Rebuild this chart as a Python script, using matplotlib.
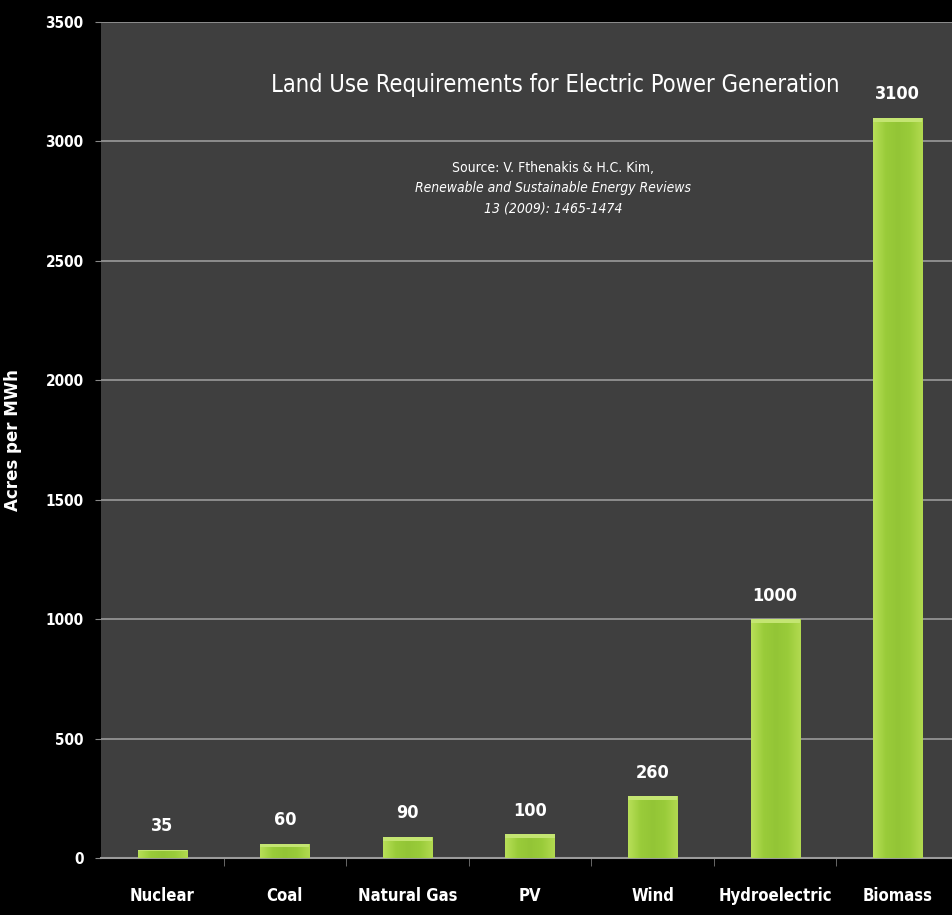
import matplotlib
matplotlib.use("Agg")
import matplotlib.pyplot as plt
from matplotlib.colors import LinearSegmentedColormap
import numpy as np

categories = ["Nuclear", "Coal", "Natural Gas", "PV", "Wind", "Hydroelectric", "Biomass"]
values = [35, 60, 90, 100, 260, 1000, 3100]
yticks = [0, 500, 1000, 1500, 2000, 2500, 3000, 3500]

plt.rcParams['font.family'] = ['DejaVu Sans']
plt.rcParams['font.stretch'] = 'condensed'

fig = plt.figure(figsize=(9.53, 9.15), dpi=100, facecolor='black')
ax = fig.add_axes([101/953, 1-858/915, 858/953, (858-22)/915])
ax.set_facecolor('#3f3f3f')

x = np.arange(len(categories))
bars = ax.bar(x, values, width=0.4, color='#98ca38', zorder=3)

# horizontal gradient: lighter edges, solid middle
cmap = LinearSegmentedColormap.from_list('g', ['#b8df58', '#9acc3a', '#93c536', '#9acc3a', '#b2da50'])
grad = np.linspace(0, 1, 64).reshape(1, -1)
for b in bars:
    h = b.get_height()
    im = ax.imshow(grad, extent=[b.get_x(), b.get_x() + b.get_width(), 0, h],
                   aspect='auto', cmap=cmap, zorder=3.5, origin='lower')
    im.set_clip_path(b)
    top = min(h * 0.2, 18)
    ax.bar(b.get_x() + b.get_width()/2, top, width=b.get_width(),
           bottom=h - top, color='#c4e572', zorder=4)

for xi, v in zip(x, values):
    ax.text(xi, v + 60, str(v), ha='center', va='bottom', color='white',
            fontsize=13, fontweight='bold', zorder=5)

ax.set_xlim(-0.5, 6.5)
ax.set_ylim(0, 3500)
ax.set_aspect('auto')
ax.set_yticks(yticks)
ax.set_yticklabels([str(t) for t in yticks], color='white', fontsize=11, fontweight='bold')
ax.set_xticks(x)
ax.set_xticklabels(categories, color='white', fontsize=12, fontweight='bold')
ax.tick_params(axis='x', length=0, pad=21)
ax.tick_params(axis='y', length=4.5, color='#888888', pad=8)
ax.set_xticks(np.arange(0.5, 6.5, 1), minor=True)
ax.tick_params(axis='x', which='minor', length=6, color='#777777', direction='out')

ax.grid(axis='y', color='#9a9a9a', linewidth=1.2, zorder=1)
for s in ['top', 'right', 'left']:
    ax.spines[s].set_visible(False)
ax.spines['bottom'].set_color('#9a9a9a')
ax.spines['bottom'].set_linewidth(1.5)

ax.set_ylabel("Acres per MWh", color='white', fontsize=12, fontweight='bold',
              fontstretch='normal')
ax.yaxis.set_label_coords((22 - 101) / 858, 1 - (440 - 22) / 836)

fig.text(555/953, 1-85/915, "Land Use Requirements for Electric Power Generation",
         color='white', fontsize=17, ha='center', va='center', fontweight='medium')
fig.text(553/953, 1-168/915, "Source: V. Fthenakis & H.C. Kim,", color='white',
         fontsize=10, ha='center', va='center')
fig.text(553/953, 1-188/915, "Renewable and Sustainable Energy Reviews", color='white',
         fontsize=10, ha='center', va='center', style='italic')
fig.text(553/953, 1-208/915, "13 (2009): 1465-1474", color='white',
         fontsize=10, ha='center', va='center', style='italic')

fig.savefig("out.png", dpi=100, facecolor='black')
